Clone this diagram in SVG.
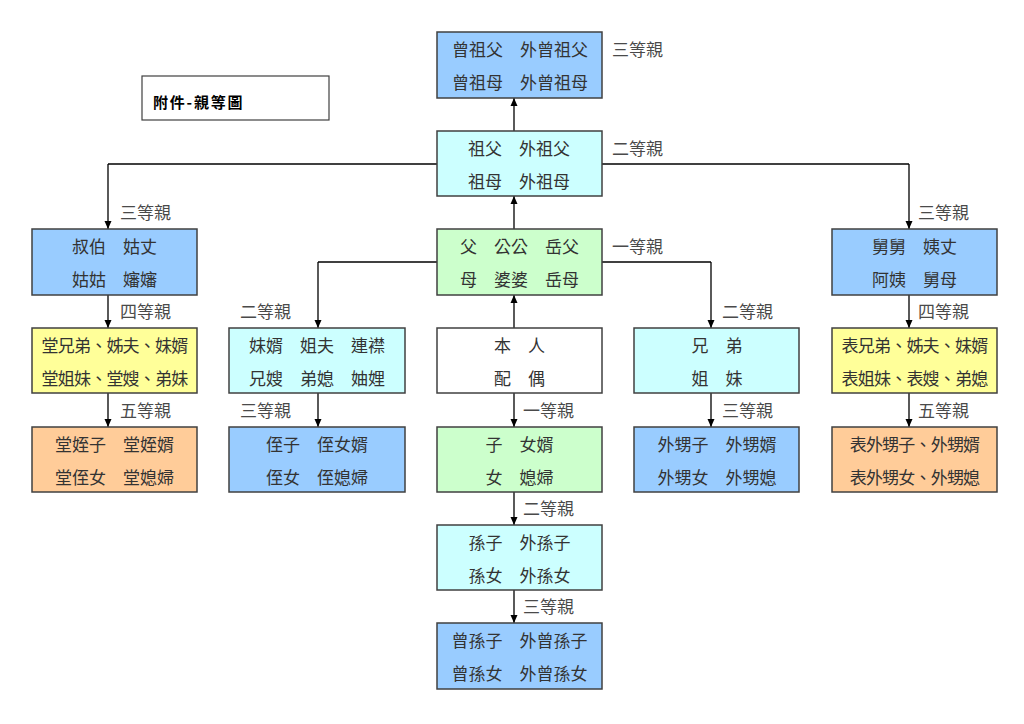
<svg xmlns="http://www.w3.org/2000/svg" width="1024" height="724" viewBox="0 0 1024 724">
<defs>
<marker id="ah" markerUnits="userSpaceOnUse" markerWidth="8" markerHeight="8" refX="8" refY="4" orient="auto">
<path d="M0,0.5 L8,4 L0,7.5 z" fill="#000"/>
</marker>
<style>
text{font-family:"Noto Sans CJK TC","Noto Sans CJK SC",sans-serif;font-size:17px;fill:#333;}
.t{text-anchor:middle;}
.lb{fill:#4a4a4a;}
.box{stroke:#404040;stroke-width:1.5;}
.blue{fill:#99CCFF;}
.cyan{fill:#CCFFFF;}
.green{fill:#CCFFCC;}
.yellow{fill:#FFFF99;}
.orange{fill:#FFCC99;}
.white{fill:#FFFFFF;}
.c{stroke:#000;stroke-width:1.3;fill:none;}
.a{marker-end:url(#ah);}
.title{font-size:15px;font-weight:bold;fill:#000;letter-spacing:1.8px;}
</style>
</defs>
<rect width="1024" height="724" fill="#fff"/>

<g id="connectors">
<path class="c a" d="M514,131 V98"/>
<path class="c a" d="M514,229 V196"/>
<path class="c a" d="M514,328 V295"/>
<path class="c a" d="M514,393 V427"/>
<path class="c a" d="M514,492 V525"/>
<path class="c a" d="M514,590 V623"/>
<path class="c" d="M108,164 H909"/>
<path class="c a" d="M108,164 V229"/>
<path class="c a" d="M909,164 V229"/>
<path class="c" d="M318,262 H711"/>
<path class="c a" d="M318,262 V328"/>
<path class="c a" d="M711,262 V328"/>
<path class="c a" d="M108,295 V328"/>
<path class="c a" d="M108,393 V427"/>
<path class="c a" d="M318,393 V427"/>
<path class="c a" d="M711,393 V427"/>
<path class="c a" d="M909,295 V328"/>
<path class="c a" d="M909,393 V427"/>
</g>

<g id="title">
<rect x="142" y="76" width="187" height="44" fill="#fff" stroke="#404040" stroke-width="1.2"/>
<text class="title" x="153" y="108">附件-親等圖</text>
</g>

<g id="n-great-grandparents">
<rect class="box blue" x="437" y="32" width="165" height="66"/>
<text class="t" x="520" y="55.5">曾祖父　外曾祖父</text>
<text class="t" x="520" y="88.5">曾祖母　外曾祖母</text>
</g>
<g id="n-grandparents">
<rect class="box cyan" x="437" y="131" width="165" height="65"/>
<text class="t" x="519" y="154.5">祖父　外祖父</text>
<text class="t" x="519" y="187.5">祖母　外祖母</text>
</g>
<g id="n-parents">
<rect class="box green" x="437" y="229" width="165" height="66"/>
<text class="t" x="519.5" y="252.5">父　公公　岳父</text>
<text class="t" x="519.5" y="285.5">母　婆婆　岳母</text>
</g>
<g id="n-self">
<rect class="box white" x="437" y="328" width="165" height="65"/>
<text class="t" x="519.5" y="351.5">本　人</text>
<text class="t" x="519.5" y="384.5">配　偶</text>
</g>
<g id="n-children">
<rect class="box green" x="437" y="427" width="165" height="65"/>
<text class="t" x="519.5" y="450.5">子　女婿</text>
<text class="t" x="519.5" y="483.5">女　媳婦</text>
</g>
<g id="n-grandchildren">
<rect class="box cyan" x="437" y="525" width="165" height="65"/>
<text class="t" x="519.5" y="548.5">孫子　外孫子</text>
<text class="t" x="519.5" y="581.5">孫女　外孫女</text>
</g>
<g id="n-great-grandchildren">
<rect class="box blue" x="437" y="623" width="165" height="66"/>
<text class="t" x="519.5" y="646.5">曾孫子　外曾孫子</text>
<text class="t" x="519.5" y="679.5">曾孫女　外曾孫女</text>
</g>

<g id="n-uncles">
<rect class="box blue" x="32" y="229" width="165" height="66"/>
<text class="t" x="114.5" y="252.5">叔伯　姑丈</text>
<text class="t" x="114.5" y="285.5">姑姑　嬸嬸</text>
</g>
<g id="n-cousins">
<rect class="box yellow" x="32" y="328" width="165" height="65"/>
<text class="t" x="114.5" y="351.5" letter-spacing="-0.8">堂兄弟、姊夫、妹婿</text>
<text class="t" x="114.5" y="384.5" letter-spacing="-0.8">堂姐妹、堂嫂、弟妹</text>
</g>
<g id="n-cousin-children">
<rect class="box orange" x="32" y="427" width="165" height="65"/>
<text class="t" x="114.5" y="450.5">堂姪子　堂姪婿</text>
<text class="t" x="114.5" y="483.5">堂侄女　堂媳婦</text>
</g>

<g id="n-siblings-in-law">
<rect class="box cyan" x="229" y="328" width="176" height="65"/>
<text class="t" x="317" y="351.5">妹婿　姐夫　連襟</text>
<text class="t" x="317" y="384.5">兄嫂　弟媳　妯娌</text>
</g>
<g id="n-nephews">
<rect class="box blue" x="229" y="427" width="176" height="65"/>
<text class="t" x="317" y="450.5">侄子　侄女婿</text>
<text class="t" x="317" y="483.5">侄女　侄媳婦</text>
</g>

<g id="n-siblings">
<rect class="box cyan" x="634" y="328" width="165" height="65"/>
<text class="t" x="717" y="351.5">兄　弟</text>
<text class="t" x="717" y="384.5">姐　妹</text>
</g>
<g id="n-sister-children">
<rect class="box blue" x="634" y="427" width="165" height="65"/>
<text class="t" x="717" y="450.5">外甥子　外甥婿</text>
<text class="t" x="717" y="483.5">外甥女　外甥媳</text>
</g>

<g id="n-maternal-uncles">
<rect class="box blue" x="832" y="229" width="165" height="66"/>
<text class="t" x="914.5" y="252.5">舅舅　姨丈</text>
<text class="t" x="914.5" y="285.5">阿姨　舅母</text>
</g>
<g id="n-maternal-cousins">
<rect class="box yellow" x="832" y="328" width="165" height="65"/>
<text class="t" x="914.5" y="351.5" letter-spacing="-0.8">表兄弟、姊夫、妹婿</text>
<text class="t" x="914.5" y="384.5" letter-spacing="-0.8">表姐妹、表嫂、弟媳</text>
</g>
<g id="n-maternal-cousin-children">
<rect class="box orange" x="832" y="427" width="165" height="65"/>
<text class="t" x="914.5" y="450.5" letter-spacing="-0.8">表外甥子、外甥婿</text>
<text class="t" x="914.5" y="483.5" letter-spacing="-0.8">表外甥女、外甥媳</text>
</g>

<g id="labels">
<text class="lb" x="612" y="55.5">三等親</text>
<text class="lb" x="612" y="154.5">二等親</text>
<text class="lb" x="612" y="252.5">一等親</text>
<text class="lb" x="120" y="219">三等親</text>
<text class="lb" x="120" y="318">四等親</text>
<text class="lb" x="120" y="417">五等親</text>
<text class="lb" x="240" y="318">二等親</text>
<text class="lb" x="240" y="417">三等親</text>
<text class="lb" x="722" y="318">二等親</text>
<text class="lb" x="722" y="417">三等親</text>
<text class="lb" x="918" y="219">三等親</text>
<text class="lb" x="918" y="318">四等親</text>
<text class="lb" x="918" y="417">五等親</text>
<text class="lb" x="523" y="417">一等親</text>
<text class="lb" x="523" y="515">二等親</text>
<text class="lb" x="523" y="613">三等親</text>
</g>
</svg>
